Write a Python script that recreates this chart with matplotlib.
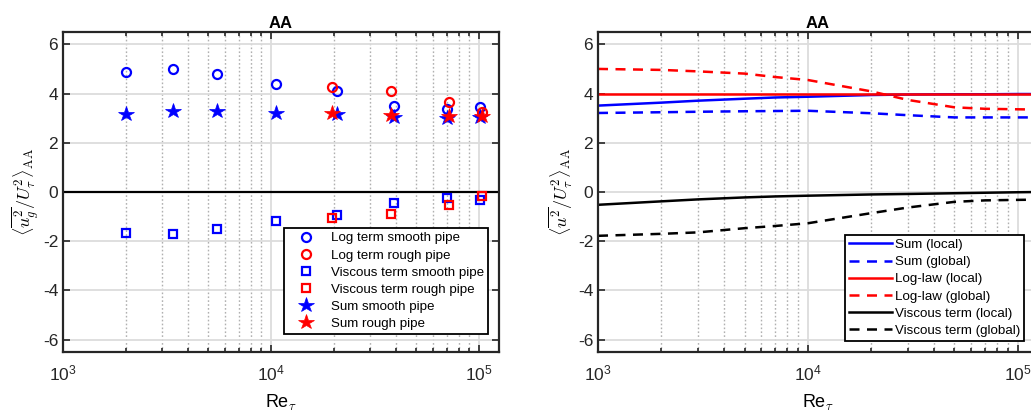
import numpy as np
import matplotlib
matplotlib.use("Agg")
import matplotlib.pyplot as plt
from matplotlib.ticker import LogLocator, NullFormatter

plt.rcParams['font.family'] = ['Liberation Sans', 'DejaVu Sans']

# ---- Left panel data ----
re_smooth = [2000, 3370, 5480, 10600, 20800, 38900, 70400, 101500]
log_smooth = [4.86, 5.01, 4.80, 4.40, 4.12, 3.50, 3.38, 3.44]
visc_smooth = [-1.67, -1.71, -1.50, -1.16, -0.93, -0.46, -0.23, -0.33]
sum_smooth = [3.18, 3.30, 3.29, 3.21, 3.17, 3.03, 3.02, 3.05]

re_rough = [19700, 37800, 71500, 103000]
log_rough = [4.28, 4.10, 3.64, 3.26]
visc_rough = [-1.05, -0.90, -0.53, -0.15]
sum_rough = [3.21, 3.13, 3.10, 3.10]

# ---- Right panel data ----
re_line = [1000, 2000, 3000, 5000, 7000, 10000, 20000, 30000, 50000, 70000, 100000, 125000]
sum_local = [3.51, 3.63, 3.71, 3.79, 3.84, 3.87, 3.94, 3.96, 3.97, 3.97, 3.98, 3.98]
sum_global = [3.21, 3.24, 3.26, 3.28, 3.29, 3.30, 3.20, 3.12, 3.03, 3.03, 3.03, 3.03]
log_local = [4.0, 4.0, 4.0, 4.0, 4.0, 4.0, 4.0, 4.0, 4.0, 4.0, 4.0, 4.0]
log_global = [5.0, 4.96, 4.90, 4.81, 4.67, 4.55, 4.09, 3.74, 3.44, 3.38, 3.36, 3.35]
visc_local = [-0.52, -0.38, -0.30, -0.22, -0.18, -0.15, -0.10, -0.08, -0.05, -0.03, -0.01, 0.0]
visc_global = [-1.78, -1.70, -1.64, -1.47, -1.38, -1.27, -0.86, -0.63, -0.40, -0.34, -0.32, -0.31]

W, H = 1031, 416
fig = plt.figure(figsize=(W / 100, H / 100), dpi=100)

ax1 = fig.add_axes([63 / W, 1 - 352 / H, (499 - 63) / W, 320 / H])
ax2 = fig.add_axes([598 / W, 1 - 352 / H, (1038 - 598) / W, 320 / H])

spine_c = '#262626'

def style(ax):
    ax.set_xscale('log')
    ax.set_xlim(1e3, 1.25e5)
    ax.set_ylim(-6.5, 6.5)
    ax.set_yticks([-6, -4, -2, 0, 2, 4, 6])
    ax.set_yticklabels(['-6', '-4', '-2', '0', '2', '4', '6'])
    ax.xaxis.set_major_locator(LogLocator(base=10, numticks=10))
    ax.xaxis.set_minor_locator(LogLocator(base=10, subs=np.arange(2, 10), numticks=20))
    ax.xaxis.set_minor_formatter(NullFormatter())
    ax.set_axisbelow(True)
    ax.grid(True, which='major', axis='both', color='#dcdcdc', lw=1.3, ls='-')
    ax.grid(True, which='minor', axis='x', color='#b0b0b0', lw=1.0, ls=(0, (1.2, 1.6)))
    ax.tick_params(which='both', direction='in', top=True, right=True, colors=spine_c,
                   labelcolor='#262626', labelsize=12.5, width=1.2)
    ax.tick_params(which='major', length=5)
    ax.tick_params(which='minor', length=3)
    ax.tick_params(axis='x', pad=8)
    for s in ax.spines.values():
        s.set_color(spine_c)
        s.set_linewidth(1.6)
    ax.set_title('AA', fontsize=12, fontweight='bold', pad=3)
    ax.set_xlabel(r'Re$_\tau$', fontsize=13, labelpad=7, math_fontfamily='cm')

style(ax1)
style(ax2)

# Left panel
ax1.axhline(0, color='black', lw=1.6, zorder=2)
mk = dict(ls='none', mew=1.6)
ax1.plot(re_smooth, log_smooth, marker='o', mfc='none', mec='blue', ms=6.5, label='Log term smooth pipe', **mk)
ax1.plot(re_rough, log_rough, marker='o', mfc='none', mec='red', ms=6.5, label='Log term rough pipe', **mk)
ax1.plot(re_smooth, visc_smooth, marker='s', mfc='none', mec='blue', ms=5.5, label='Viscous term smooth pipe', **mk)
ax1.plot(re_rough, visc_rough, marker='s', mfc='none', mec='red', ms=5.5, label='Viscous term rough pipe', **mk)
ax1.plot(re_smooth, sum_smooth, marker='*', color='blue', ms=11.5, ls='none', mew=0.5, label='Sum smooth pipe')
ax1.plot(re_rough, sum_rough, marker='*', color='red', ms=11.5, ls='none', mew=0.5, label='Sum rough pipe')
ax1.set_ylabel(r'$\langle\overline{u_g^2}/U_\tau^2\rangle_{\mathrm{AA}}$', fontsize=13,
               math_fontfamily='cm', labelpad=2)
leg1 = ax1.legend(loc='lower right', bbox_to_anchor=(0.99, 0.035), fontsize=9.6, frameon=True,
                  fancybox=False, edgecolor='black', framealpha=1, handletextpad=0.6,
                  borderpad=0.3, labelspacing=0.36, handlelength=2.6)
leg1.get_frame().set_linewidth(1.3)

# Right panel
dash = (0, (4, 3))
ax2.plot(re_line, sum_local, color='blue', lw=1.8, label='Sum (local)')
ax2.plot(re_line, sum_global, color='blue', lw=1.8, ls=dash, label='Sum (global)')
ax2.plot(re_line, log_local, color='red', lw=1.8, label='Log-law (local)')
ax2.plot(re_line, log_global, color='red', lw=1.8, ls=dash, label='Log-law (global)')
ax2.plot(re_line, visc_local, color='black', lw=1.8, label='Viscous term (local)')
ax2.plot(re_line, visc_global, color='black', lw=1.8, ls=dash, label='Viscous term (global)')
ax2.set_ylabel(r'$\langle\overline{u^2}/U_\tau^2\rangle_{\mathrm{AA}}$', fontsize=13,
               math_fontfamily='cm', labelpad=2)
leg2 = ax2.legend(loc='lower right', bbox_to_anchor=(0.968, 0.035), fontsize=9.6, frameon=True,
                  fancybox=False, edgecolor='black', framealpha=1, handletextpad=0.2,
                  borderpad=0.3, labelspacing=0.36, handlelength=3.2, borderaxespad=0)
leg2.get_frame().set_linewidth(1.3)

fig.savefig('out.png', dpi=100)
